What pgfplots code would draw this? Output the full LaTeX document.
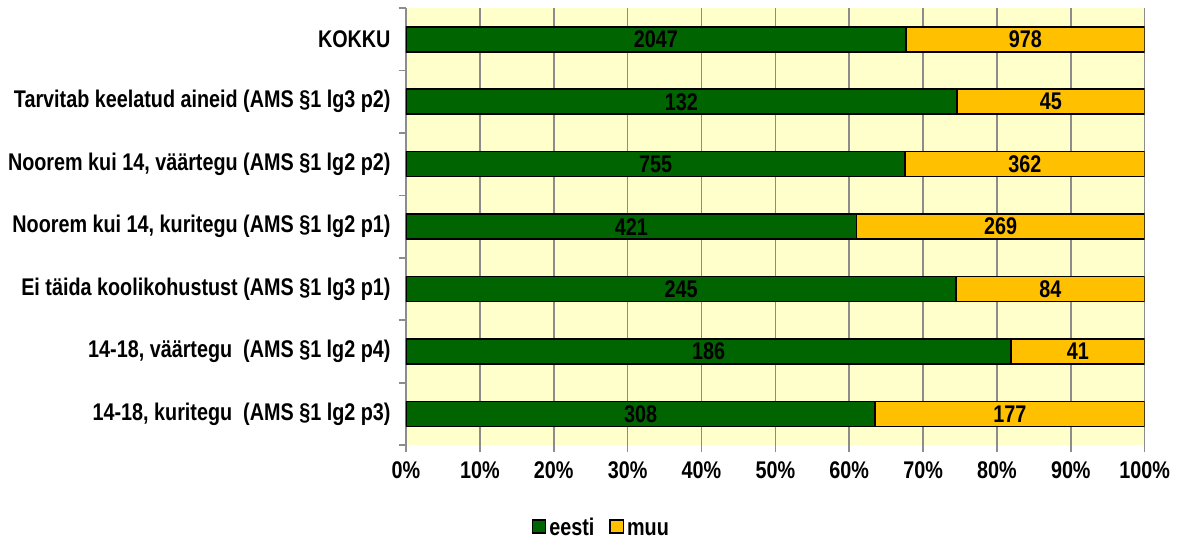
\documentclass[border=0pt]{standalone}
\usepackage{pgfplots}
\usepackage{pgfplotstable}
\pgfplotsset{compat=1.18}
\usepackage{fontspec}
\setmainfont{Liberation Sans}[FakeStretch=0.82]

\definecolor{eestigreen}{HTML}{006400}
\definecolor{muuyellow}{HTML}{FFC000}
\definecolor{bgyellow}{HTML}{FFFFCC}
\definecolor{gridgray}{HTML}{8C8C8C}

% y: 0 = top row
\pgfplotstableread{
y eesti muu
0 2047 978
1 132 45
2 755 362
3 421 269
4 245 84
5 186 41
6 308 177
}\datatable

\newcommand{\lbl}{\fontsize{12bp}{14bp}\selectfont\bfseries}

\pgfplotsset{
  common/.style={
    scale only axis,
    width=367.5bp, height=217.5bp,
    xmin=0, xmax=100,
    ymin=-0.5, ymax=6.5,
    y dir=reverse,
  }
}

\begin{document}
\lbl
\begin{tikzpicture}
\begin{axis}[
  common,
  xbar stacked,
  bar width=0.4,
  axis background/.style={fill=bgyellow},
  separate axis lines,
  axis x line*=bottom, axis y line*=left,
  x axis line style={draw=none},
  y axis line style={gridgray, line width=0.8bp},
  xtick={0,10,...,100},
  xticklabel={\pgfmathprintnumber{\tick}\%},
  /pgf/number format/assume math mode=true,
  xmajorgrids,
  major grid style={gridgray, line width=0.8bp},
  x tick style={gridgray, line width=0.8bp},
  tick align=outside,
  major tick length=3.5bp,
  ytick={0,...,6},
  yticklabels={KOKKU, Tarvitab keelatud aineid (AMS §1 lg3 p2), {Noorem kui 14, väärtegu (AMS §1 lg2 p2)}, {Noorem kui 14, kuritegu (AMS §1 lg2 p1)}, Ei täida koolikohustust (AMS §1 lg3 p1), {14-18, väärtegu\ \ (AMS §1 lg2 p4)}, {14-18, kuritegu\ \ (AMS §1 lg2 p3)}},
  y tick style={draw=none},
  minor ytick={-0.5,0.5,...,6.5},
  minor y tick style={draw=gridgray, line width=0.8bp},
  minor tick length=3.5bp,
  yticklabel style={font=\lbl, xshift=0bp},
  xticklabel style={font=\lbl, yshift=-0.5bp},
  legend style={at={(0.265,-0.186)}, anchor=center, draw=none, fill=none,
    legend columns=2, font=\lbl,
    nodes={text height=1.6ex, text depth=0.2ex, inner sep=1.5bp},
    /tikz/every even column/.append style={column sep=6bp}},
  legend image code/.code={\draw[#1, line width=0.8bp] (0bp,-3.3bp) rectangle (6.5bp,3.3bp);},
]
\addplot[fill=eestigreen, draw=black, line width=0.8bp]
  table[x expr={100*\thisrow{eesti}/(\thisrow{eesti}+\thisrow{muu})}, y=y] {\datatable};
\addplot[fill=muuyellow, draw=black, line width=0.8bp]
  table[x expr={100*\thisrow{muu}/(\thisrow{eesti}+\thisrow{muu})}, y=y] {\datatable};
\legend{eesti, muu}
\end{axis}
\begin{axis}[
  common,
  hide axis,
  nodes near coords,
  point meta=explicit,
  /pgf/number format/assume math mode=true,
  /pgf/number format/1000 sep={},
  every node near coord/.append style={font=\lbl, anchor=center, text=black},
]
\addplot[only marks, mark=none]
  table[x expr={50*\thisrow{eesti}/(\thisrow{eesti}+\thisrow{muu})}, y=y, meta=eesti] {\datatable};
\addplot[only marks, mark=none]
  table[x expr={50+50*\thisrow{eesti}/(\thisrow{eesti}+\thisrow{muu})}, y=y, meta=muu] {\datatable};
\end{axis}
\path ([yshift=4bp]current axis.north);
\end{tikzpicture}
\end{document}
